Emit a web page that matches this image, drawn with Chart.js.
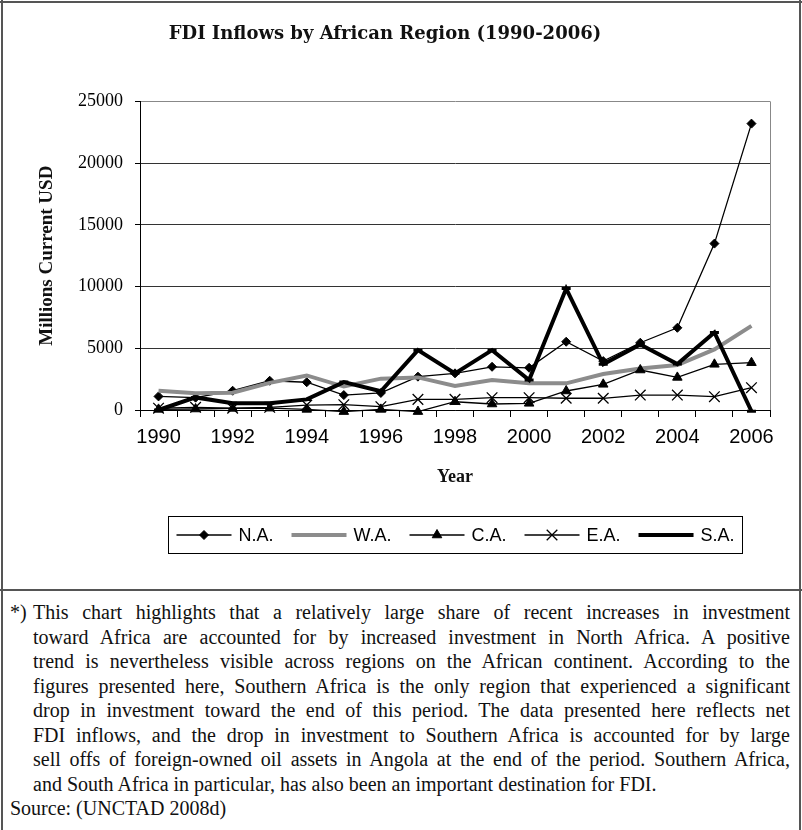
<!DOCTYPE html>
<html>
<head>
<meta charset="utf-8">
<script src="https://cdn.jsdelivr.net/npm/chart.js"></script>
<style>
  body { margin: 0; background: #fff; }
  #page { position: relative; width: 802px; height: 830px; overflow: hidden; background: #fff; }
  #fdi-chart { position: absolute; left: 0; top: 0; }
  .rule { position: absolute; background: #555; }
  #note {
    position: absolute; left: 10px; top: 600px; width: 780px;
    font-family: "Liberation Serif", "Times New Roman", serif;
    font-size: 20px; line-height: 24.5px; color: #111;
  }
  #note .ln { position: relative; padding-left: 23px; white-space: nowrap; text-align: justify; text-align-last: justify; }
  #note .ln.last { text-align-last: left; }
  #note .star { position: absolute; left: 0; top: 0; }
  #note .src { white-space: nowrap; }
</style>
</head>
<body>
<div id="page">
  <canvas id="fdi-chart" width="802" height="590"></canvas>
  <div class="rule" style="left:0;top:1px;width:802px;height:2px"></div>
  <div class="rule" style="left:1px;top:0;width:2px;height:830px"></div>
  <div class="rule" style="left:799px;top:0;width:2px;height:830px"></div>
  <div class="rule" style="left:0;top:589px;width:802px;height:2px"></div>
  <div id="note">
    <div class="ln"><span class="star">*)</span>This chart highlights that a relatively large share of recent increases in investment</div>
    <div class="ln">toward Africa are accounted for by increased investment in North Africa. A positive</div>
    <div class="ln">trend is nevertheless visible across regions on the African continent. According to the</div>
    <div class="ln">figures presented here, Southern Africa is the only region that experienced a significant</div>
    <div class="ln">drop in investment toward the end of this period. The data presented here reflects net</div>
    <div class="ln">FDI inflows, and the drop in investment to Southern Africa is accounted for by large</div>
    <div class="ln">sell offs of foreign-owned oil assets in Angola at the end of the period. Southern Africa,</div>
    <div class="ln last">and South Africa in particular, has also been an important destination for FDI.</div>
    <div class="src">Source: (UNCTAD 2008d)</div>
  </div>
</div>
<script>
const years = ['1990', '1991', '1992', '1993', '1994', '1995', '1996', '1997', '1998',
               '1999', '2000', '2001', '2002', '2003', '2004', '2005', '2006'];
const shownYears = ['1990', '1992', '1994', '1996', '1998', '2000', '2002', '2004', '2006'];

// millions of current USD
const naValues = [1100, 1000, 1560, 2370, 2250, 1210, 1380, 2700, 2970, 3500, 3420, 5530, 3960, 5450, 6660, 13480, 23200];
const waValues = [1550, 1350, 1400, 2200, 2800, 1900, 2540, 2640, 1940, 2430, 2160, 2160, 2910, 3370, 3640, 4910, 6820];
const caValues = [50, 80, 130, 150, 50, -130, 50, -130, 670, 485, 540, 1540, 2080, 3240, 2640, 3700, 3830];
const eaValues = [150, 220, 140, 220, 400, 430, 270, 860, 860, 1000, 1000, 950, 950, 1210, 1210, 1080, 1810];
const saValues = [0, 1020, 540, 540, 860, 2260, 1520, 4850, 2970, 4850, 2430, 9840, 3700, 5310, 3720, 6280, -100];

const serif = '"Liberation Serif", "Times New Roman", serif';
const wideSerif = '"DejaVu Serif", "Liberation Serif", serif';
const sans = '"Liberation Sans", Arial, sans-serif';

// frame of the plot: gray right edge
const plotFrame = {
  id: 'plotFrame',
  beforeDatasetsDraw(chart) {
    const {ctx, chartArea: a} = chart;
    ctx.save();
    ctx.strokeStyle = '#888';
    ctx.lineWidth = 1;
    ctx.beginPath();
    ctx.moveTo(Math.round(a.right) + 0.5, a.top);
    ctx.lineTo(Math.round(a.right) + 0.5, a.bottom);
    ctx.stroke();
    ctx.restore();
  }
};

// boxed legend with line samples, drawn below the axis title
const boxedLegend = {
  id: 'boxedLegend',
  afterDraw(chart) {
    const ctx = chart.ctx;
    const sets = chart.data.datasets;
    const sample = 55, gapText = 7, gapItem = 18, pad = 8;
    ctx.save();
    ctx.font = '18px ' + sans;
    const widths = sets.map(d => ctx.measureText(d.label).width);
    let total = pad * 2 + (sets.length - 1) * gapItem;
    widths.forEach(w => total += sample + gapText + w);
    const a = chart.chartArea;
    const left = Math.round((a.left + a.right) / 2 - total / 2) + 0.5;
    const top = 516.5, h = 37;
    ctx.strokeStyle = '#000';
    ctx.lineWidth = 1;
    ctx.strokeRect(left, top, Math.round(total), h);
    const cy = top + h / 2;
    let x = left + pad;
    sets.forEach((d, i) => {
      ctx.strokeStyle = d.borderColor;
      ctx.lineWidth = d.borderWidth;
      ctx.beginPath();
      ctx.moveTo(x, cy);
      ctx.lineTo(x + sample, cy);
      ctx.stroke();
      if (d.pointRadius > 0) {
        ctx.fillStyle = d.pointBackgroundColor;
        ctx.strokeStyle = d.pointBorderColor;
        ctx.lineWidth = d.pointBorderWidth;
        Chart.helpers.drawPoint(ctx, {pointStyle: d.pointStyle, radius: d.pointRadius,
          borderWidth: d.pointBorderWidth, rotation: 0}, x + sample / 2, cy);
      }
      ctx.fillStyle = '#000';
      ctx.textBaseline = 'middle';
      ctx.textAlign = 'left';
      ctx.fillText(d.label, x + sample + gapText, cy + 1);
      x += sample + gapText + widths[i] + gapItem;
    });
    ctx.restore();
  }
};

function series(label, values, style) {
  return Object.assign({
    label: label,
    data: values,
    borderColor: '#000',
    borderWidth: 1.3,
    pointBackgroundColor: '#000',
    pointBorderColor: '#000',
    pointBorderWidth: 1,
    pointRadius: 0,
    tension: 0,
    fill: false,
    clip: 6
  }, style);
}

const data = {
  labels: years,
  datasets: [
    series('N.A.', naValues, {pointStyle: 'rectRot', pointRadius: 4.5, order: 5}),
    series('W.A.', waValues, {borderColor: '#8c8c8c', borderWidth: 4, order: 4}),
    series('C.A.', caValues, {pointStyle: 'triangle', pointRadius: 5.5, order: 3}),
    series('E.A.', eaValues, {pointStyle: 'crossRot', pointRadius: 7.5, pointBorderWidth: 1.3, order: 2}),
    series('S.A.', saValues, {borderWidth: 4, pointStyle: 'line', pointRadius: 4.5, pointBorderWidth: 3, order: 1})
  ]
};

const options = {
  responsive: false,
  devicePixelRatio: 1,
  animation: false,
  events: [],
  layout: {padding: {left: 0, right: 32, top: 0, bottom: 90}},
  plugins: {
    legend: {display: false},
    tooltip: {enabled: false},
    title: {
      display: true,
      text: 'FDI Inflows by African Region (1990-2006)',
      color: '#111',
      font: {family: wideSerif, size: 18, weight: 'bold', lineHeight: 1.3},
      padding: {top: 23, bottom: 55}
    }
  },
  scales: {
    x: {
      type: 'category',
      offset: true,
      afterFit: s => { s.height = 90; },
      grid: {display: true, offset: true, drawOnChartArea: false, tickLength: 7, color: '#000'},
      border: {color: '#000', width: 1},
      ticks: {
        autoSkip: false, maxRotation: 0, padding: 8, color: '#000',
        font: {family: sans, size: 20},
        callback: function(value) {
          const y = this.getLabelForValue(value);
          return shownYears.includes(y) ? y : '';
        }
      },
      title: {
        display: true, text: 'Year', color: '#111',
        font: {family: serif, size: 18, weight: 'bold'},
        padding: {top: 0, bottom: 12}
      }
    },
    y: {
      min: 0,
      max: 25000,
      afterFit: s => { s.width = 140; },
      grid: {
        tickLength: 5,
        tickColor: '#000',
        color: ctx => ctx.tick && ctx.tick.value === 25000 ? '#888' : '#333'
      },
      border: {color: '#000', width: 1},
      ticks: {
        stepSize: 5000, padding: 12, color: '#000', font: {family: serif, size: 18},
        callback: value => String(value)
      },
      title: {
        display: true, text: 'Millions Current USD', color: '#111',
        font: {family: serif, size: 19, weight: 'bold'},
        padding: {top: 36, bottom: 0}
      }
    }
  }
};

const config = {
  type: 'line',
  data: data,
  options: options,
  plugins: [plotFrame, boxedLegend]
};

window.fdiChart = new Chart(document.getElementById('fdi-chart').getContext('2d'), config);
</script>
</body>
</html>
